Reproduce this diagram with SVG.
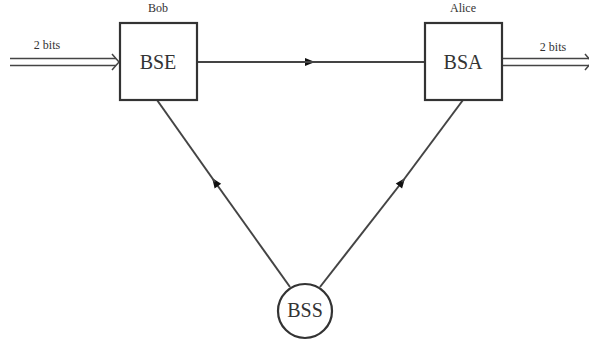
<svg xmlns="http://www.w3.org/2000/svg" width="589" height="347" viewBox="0 0 589 347">
<style>
.box{fill:#fff;stroke:#333;stroke-width:2.2}
.ln{stroke:#444;stroke-width:2;fill:none}
.dbl{stroke:#444;stroke-width:1.5;fill:none}
.big{font-family:"Liberation Serif","Times New Roman",serif;font-size:20px;fill:#333;text-anchor:middle}
.sm{font-family:"Liberation Serif","Times New Roman",serif;font-size:12px;fill:#333;text-anchor:middle}
</style>
<defs>
<marker id="ah" viewBox="0 0 10 10" refX="5" refY="5" markerWidth="11" markerHeight="10" markerUnits="userSpaceOnUse" orient="auto">
<path d="M0,1 L10,5 L0,9 z" fill="#111"/>
</marker>
</defs>
<rect width="589" height="347" fill="#fff"/>
<g id="connectors">
<path class="ln" d="M197,62 L310,62" marker-end="url(#ah)"/>
<path class="ln" d="M305,62 L425,62"/>
<path class="ln" d="M290,287 L215,182" marker-end="url(#ah)"/>
<path class="ln" d="M215,182 L157,100"/>
<path class="ln" d="M320,287 L402,182" marker-end="url(#ah)"/>
<path class="ln" d="M402,182 L463,100"/>
<g id="in-arrow">
<path class="dbl" d="M10,58.5 L116,58.5 M10,65.5 L116,65.5"/>
<path class="dbl" d="M112,54 L119,62 L112,70"/>
<text class="sm" x="47" y="49">2 bits</text>
</g>
<g id="out-arrow">
<path class="dbl" d="M503,58.5 L589,58.5 M503,65.5 L589,65.5"/>
<path class="dbl" d="M585,54 L592,62 L585,70"/>
<text class="sm" x="553" y="51">2 bits</text>
</g>
</g>
<g id="BSE">
<rect class="box" x="120" y="23" width="77" height="77"/>
<text class="big" x="158" y="69">BSE</text>
<text class="sm" x="158" y="12">Bob</text>
</g>
<g id="BSA">
<rect class="box" x="425" y="23" width="77" height="77"/>
<text class="big" x="463" y="69">BSA</text>
<text class="sm" x="463" y="12">Alice</text>
</g>
<g id="BSS">
<circle class="box" cx="305" cy="311" r="27" stroke-width="1.6"/>
<text class="big" x="305" y="317" font-size="16">BSS</text>
</g>
</svg>
